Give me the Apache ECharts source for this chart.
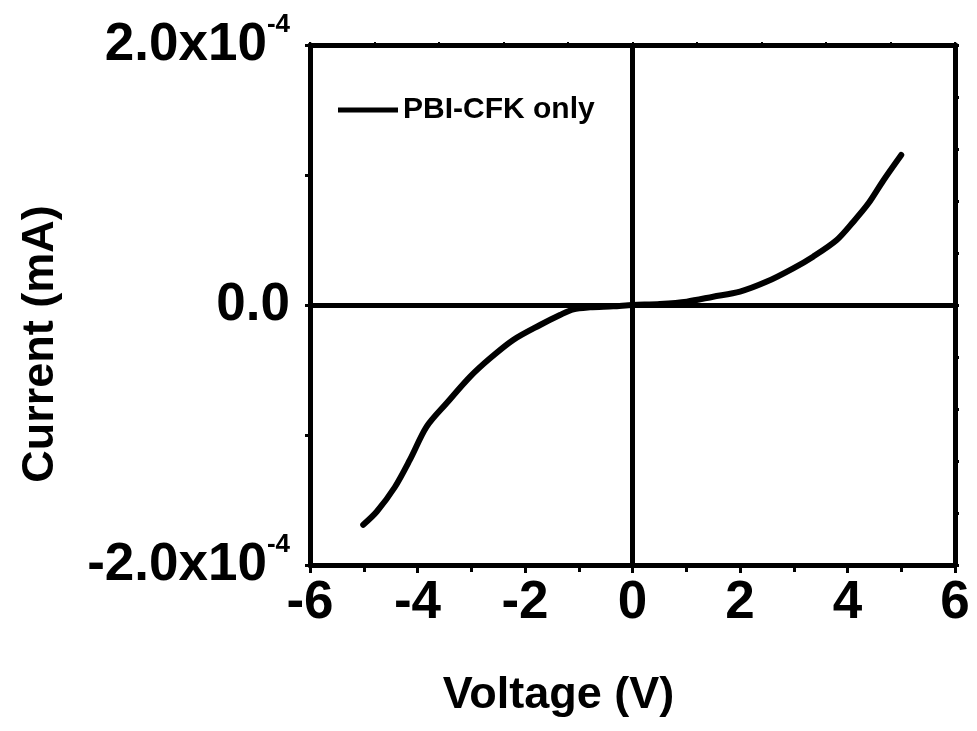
<!DOCTYPE html>
<html><head><meta charset="utf-8">
<script src="https://cdn.jsdelivr.net/npm/echarts@6/dist/echarts.min.js"></script>
<style>html,body{margin:0;padding:0;background:#fff}#c{width:977px;height:731px}</style>
</head><body><div id="c"></div>
<script>
const seriesName = 'PBI-CFK only';
const voltage = [-5.01,-4.76,-4.42,-4.14,-3.83,-3.46,-3.02,-2.65,-2.22,-1.72,-1.35,-1.10,-0.79,-0.36,0,0.51,1.01,1.50,2.00,2.50,2.99,3.36,3.80,4.11,4.39,4.67,5.00];
const current = [-1.69e-4,-1.59e-4,-1.40e-4,-1.19e-4,-0.936e-4,-0.756e-4,-0.551e-4,-0.41e-4,-0.269e-4,-0.154e-4,-0.077e-4,-0.033e-4,-0.018e-4,-0.010e-4,0,0.008e-4,0.026e-4,0.064e-4,0.103e-4,0.18e-4,0.282e-4,0.372e-4,0.50e-4,0.641e-4,0.782e-4,0.96e-4,1.154e-4];
const xTicks = [-6,-4,-2,0,2,4,6];
const yTickLabels = {'-2': ['-2.0x10','-4'], '0': ['0.0',''], '2': ['2.0x10','-4']};

const F = 'Liberation Sans, Arial, sans-serif';
const chart = echarts.init(document.getElementById('c'));
chart.setOption({
  animation: false,
  color: ['#000'],
  grid: {left: 310, right: 22, top: 45, bottom: 166},
  legend: {show: true, left: 333, top: 90, itemWidth: 60, itemHeight: 5, itemGap: 6,
    icon: 'rect', data: [seriesName], itemStyle: {color: '#000'},
    textStyle: {color: '#000', fontFamily: F, fontWeight: 'bold', fontSize: 30}},
  xAxis: [{
    type: 'value', min: -6, max: 6, interval: 2, position: 'bottom',
    axisLine: {show: true, onZero: false, lineStyle: {color: '#000', width: 5}},
    axisTick: {show: true, inside: false, length: 8, lineStyle: {color: '#000', width: 3}},
    minorTick: {show: true, splitNumber: 2, length: 7, lineStyle: {color: '#000', width: 3}},
    splitLine: {show: false},
    axisLabel: {margin: 12, color: '#000', fontFamily: F, fontWeight: 'bold', fontSize: 53,
      formatter: v => xTicks.includes(Math.round(v)) ? String(Math.round(v)) : ''},
    name: 'Voltage (V)', nameLocation: 'middle', nameGap: 108,
    nameTextStyle: {color: '#000', fontFamily: F, fontWeight: 'bold', fontSize: 45, padding: [0, 148, 0, 0]}
  }, {
    type: 'value', min: -6, max: 6, interval: 1.2, position: 'top',
    axisLine: {show: true, onZero: false, lineStyle: {color: '#000', width: 5}},
    axisTick: {show: true, length: 3, lineStyle: {color: '#000', width: 2}},
    axisLabel: {show: false}, splitLine: {show: false}
  }],
  yAxis: [{
    type: 'value', min: -2e-4, max: 2e-4, interval: 2e-4, position: 'left',
    axisLine: {show: true, onZero: false, lineStyle: {color: '#000', width: 5}},
    axisTick: {show: true, length: 5, lineStyle: {color: '#000', width: 3}},
    minorTick: {show: true, splitNumber: 2, length: 5, lineStyle: {color: '#000', width: 3}},
    splitLine: {show: false},
    axisLabel: {margin: 20, color: '#000',
      formatter: v => {
        const k = String(Math.round(v * 1e4));
        const t = yTickLabels[k];
        if (!t) return '';
        return t[1] ? '{b|' + t[0] + '}{s|' + t[1] + '}' : '{b|' + t[0] + '}';
      },
      rich: {
        b: {fontFamily: F, fontWeight: 'bold', fontSize: 53, lineHeight: 66, color: '#000'},
        s: {fontFamily: F, fontWeight: 'bold', fontSize: 26, lineHeight: 20, verticalAlign: 'top', color: '#000'}
      }},
    name: 'Current (mA)', nameLocation: 'middle', nameGap: 247, nameRotate: 90,
    nameTextStyle: {color: '#000', fontFamily: F, fontWeight: 'bold', fontSize: 45, padding: [0, 78, 0, 0]}
  }, {
    type: 'value', min: -2e-4, max: 2e-4, interval: 0.4e-4, position: 'right',
    axisLine: {show: true, onZero: false, lineStyle: {color: '#000', width: 5}},
    axisTick: {show: true, length: 4, lineStyle: {color: '#000', width: 3}},
    axisLabel: {show: false}, splitLine: {show: false}
  }],
  series: [{
    name: seriesName, type: 'line', data: voltage.map((v, i) => [v, current[i]]),
    xAxisIndex: 0, yAxisIndex: 0,
    symbol: 'none', smooth: 0.3,
    itemStyle: {color: '#000'},
    lineStyle: {color: '#000', width: 6, cap: 'round', join: 'round'},
    markLine: {silent: true, symbol: 'none', label: {show: false},
      lineStyle: {color: '#000', width: 5, type: 'solid'},
      data: [{xAxis: 0}, {yAxis: 0}]}
  }]
});
</script></body></html>
